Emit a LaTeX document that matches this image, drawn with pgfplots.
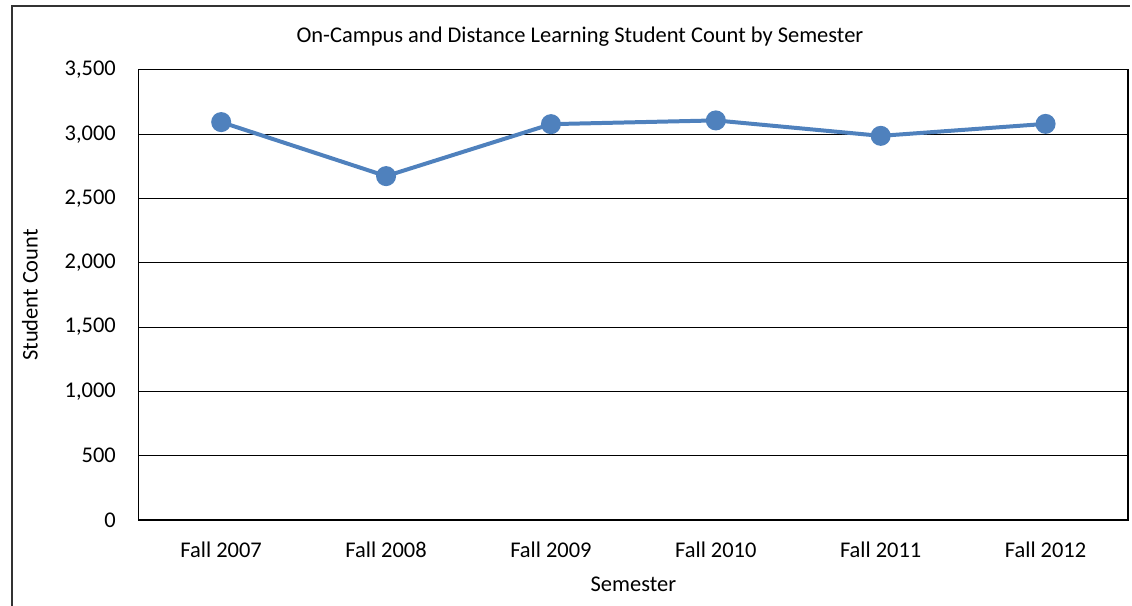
\documentclass[border=0pt]{standalone}
\usepackage{fontspec}
\setmainfont{Carlito}
\usepackage{pgfplots}
\pgfplotsset{compat=1.18}
\definecolor{series}{HTML}{4F81BD}
\begin{document}
\fontsize{9}{11}\selectfont
\begin{tikzpicture}[x=0.4pt,y=0.4pt]
% outer chart frame: only its left and top edges fall inside the picture
\draw[line width=0.5pt, black!80] (12,0) -- (12,601) -- (1132,601);
\node at (581,570) {On-Campus and Distance Learning Student Count by Semester};
\begin{axis}[
  at={(55.6pt,34.4pt)}, anchor=south west,
  scale only axis, width=396.4pt, height=180.4pt,
  xmin=-0.5, xmax=5.5, ymin=0, ymax=3500,
  xtick={0,...,5},
  xticklabels={Fall 2007,Fall 2008,Fall 2009,Fall 2010,Fall 2011,Fall 2012},
  ytick={0,500,...,3500},
  ymajorgrids, grid style={black, line width=0.4pt},
  axis line style={black, line width=0.5pt},
  major tick length=0pt,
  tick label style={font=\fontsize{9}{11}\selectfont},
  yticklabel style={xshift=-6pt},
  xticklabel style={yshift=-5.5pt},
  scaled y ticks=false,
  /pgf/number format/1000 sep={,},
  /pgf/number format/assume math mode=true,
  xlabel={Semester},
  xlabel style={at={(axis description cs:0.5,-0.142)}, anchor=center},
  ylabel={Student Count},
  ylabel style={at={(axis description cs:-0.11,0.5)}, anchor=center},
  label style={font=\fontsize{9}{11}\selectfont},
]
\addplot[color=series, line width=1.6pt, mark=*, mark size=3.2pt, mark options={fill=series}]
  coordinates {(0,3094) (1,2674) (2,3078) (3,3107) (4,2987) (5,3080)};
\end{axis}
\pgfresetboundingbox
\useasboundingbox (0,0) rectangle (1134,607);
\end{tikzpicture}
\end{document}
